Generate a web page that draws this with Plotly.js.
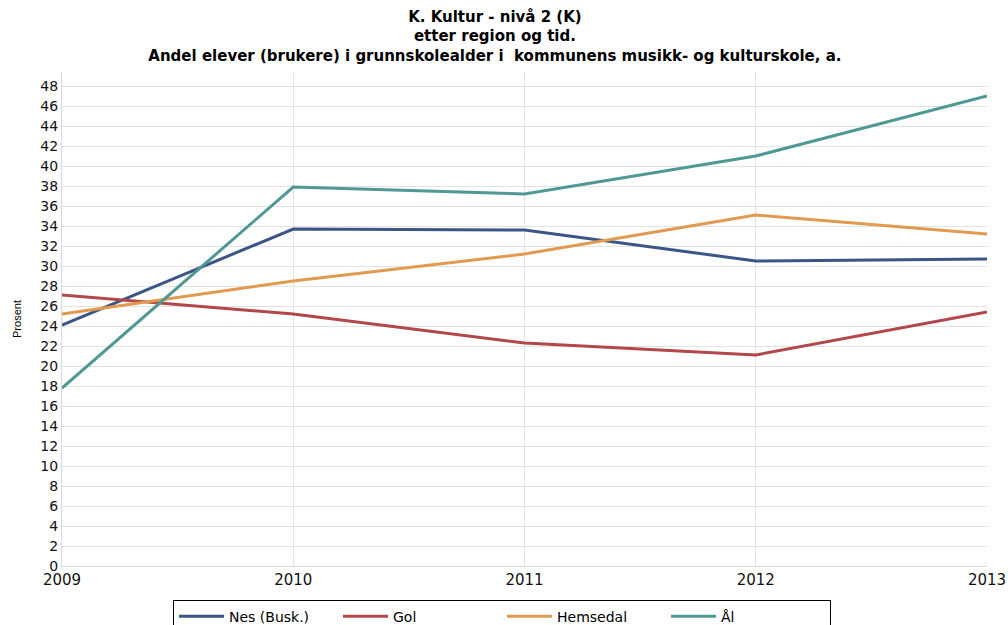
<!DOCTYPE html>
<html>
<head>
<meta charset="utf-8">
<script src="https://cdn.plot.ly/plotly-3.0.1.min.js"></script>
<style>html,body{margin:0;padding:0;background:#fff;}#chart{width:1008px;height:625px;}</style>
</head>
<body>
<div id="chart"></div>
<script>
const years = [2009, 2010, 2011, 2012, 2013];
const seriesNames = ["Nes (Busk.)", "Gol", "Hemsedal", "Ål"];
const nes = [24.1, 33.7, 33.6, 30.5, 30.7];
const gol = [27.1, 25.2, 22.3, 21.1, 25.4];
const hemsedal = [25.2, 28.5, 31.2, 35.1, 33.2];
const aal = [17.8, 37.9, 37.2, 41.0, 47.0];
const colors = ["#3b5585", "#b4474a", "#e19a4f", "#4f9893"];
const yTicks = [0,2,4,6,8,10,12,14,16,18,20,22,24,26,28,30,32,34,36,38,40,42,44,46,48];

const values = [nes, gol, hemsedal, aal];
const traces = values.map((v, i) => ({
  x: years, y: v, name: seriesNames[i], type: "scatter", mode: "lines",
  line: {color: colors[i], width: 3}
}));

const layout = {
  width: 1008, height: 625,
  paper_bgcolor: "#fff", plot_bgcolor: "#fff",
  margin: {l: 62, r: 21, t: 72, b: 59, autoexpand: false},
  font: {family: "DejaVu Sans, sans-serif", color: "#000", size: 14},
  title: {
    text: "<b>K. Kultur - nivå 2 (K)</b><br><b>etter region og tid.</b><br><b>Andel elever (brukere) i grunnskolealder i  kommunens musikk- og kulturskole, a.</b>",
    font: {family: "DejaVu Sans, sans-serif", size: 15, color: "#000"},
    x: 0.491, xanchor: "center", xref: "container",
    y: 0.965, yanchor: "top", yref: "container"
  },
  xaxis: {
    range: [2009, 2013], tickvals: years, ticktext: years.map(String),
    showgrid: true, gridcolor: "#e2e2e2", gridwidth: 1,
    showline: true, linecolor: "#d8d8d8", linewidth: 1, mirror: false,
    zeroline: false, ticks: "", tickfont: {size: 15, color: "#111"}, ticklen: 0
  },
  yaxis: {
    range: [0, 49.4], tickvals: yTicks, ticktext: yTicks.map(String),
    showgrid: true, gridcolor: "#e2e2e2", gridwidth: 1,
    showline: true, linecolor: "#d8d8d8", linewidth: 1,
    zeroline: false, ticks: "", tickfont: {size: 14, color: "#111"},
    title: {text: "Prosent", font: {family: "Liberation Sans, Arial, sans-serif", size: 11}, standoff: 16}
  },
  showlegend: true,
  legend: {
    orientation: "h", x: 0.12, xanchor: "left", y: -0.068, yanchor: "top",
    bordercolor: "#000", borderwidth: 1, bgcolor: "#fff",
    font: {size: 14}, entrywidth: 104, entrywidthmode: "pixels",
    itemwidth: 45, tracegroupgap: 0
  }
};

Plotly.newPlot("chart", traces, layout, {displayModeBar: false, staticPlot: true});
</script>
</body>
</html>
